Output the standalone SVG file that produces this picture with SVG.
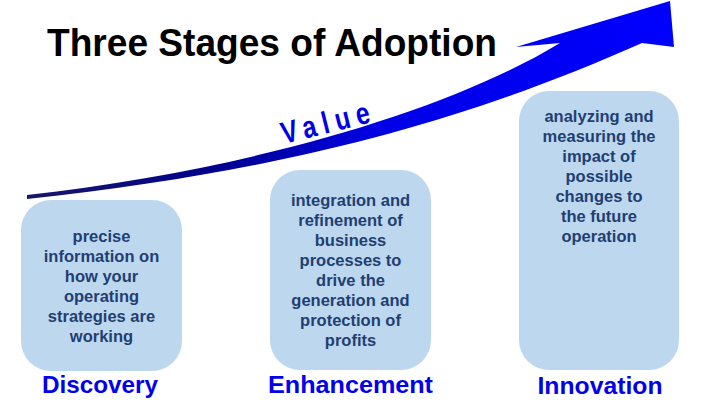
<svg xmlns="http://www.w3.org/2000/svg" width="703" height="417" viewBox="0 0 703 417">
<defs>
<linearGradient id="shaft" gradientUnits="userSpaceOnUse" x1="27" y1="0" x2="670" y2="0">
<stop offset="0" stop-color="#17176a"/>
<stop offset="0.3" stop-color="#000090"/>
<stop offset="0.55" stop-color="#0000e6"/>
<stop offset="1" stop-color="#0000ff"/>
</linearGradient>
<style>
.box{fill:#bdd7ee;}
.body{font-family:"Liberation Sans",Arial,sans-serif;font-weight:bold;font-size:16.5px;fill:#1f3f73;text-anchor:middle;}
.label{font-family:"Liberation Sans",Arial,sans-serif;font-weight:bold;font-size:24px;fill:#0000ee;text-anchor:middle;}
.title{font-family:"Liberation Sans",Arial,sans-serif;font-weight:bold;font-size:39px;fill:#000;}
.value{font-family:"Liberation Sans",Arial,sans-serif;font-weight:bold;font-size:31px;fill:#0000e6;letter-spacing:8px;}
</style>
</defs>
<rect width="703" height="417" fill="#fff"/>
<text class="title" x="47" y="56" textLength="450" lengthAdjust="spacingAndGlyphs">Three Stages of Adoption</text>
<g id="connectors">
<path d="M27,195 C250,170 450,110 560,43 L516,47 L670,1 L674,47 L642,43 C480,115 300,170 27,199 Z" fill="url(#shaft)"/>
<text class="value" transform="translate(284,144) rotate(-14) scale(0.8,1)">Value</text>
</g>
<g id="discovery">
<rect class="box" x="21" y="200" width="161" height="171" rx="30"/>
<text class="body" x="101.5" y="242">precise</text>
<text class="body" x="101.5" y="262">information on</text>
<text class="body" x="101.5" y="282">how your</text>
<text class="body" x="101.5" y="302">operating</text>
<text class="body" x="101.5" y="322">strategies are</text>
<text class="body" x="101.5" y="342">working</text>
<text class="label" x="100" y="393" textLength="116" lengthAdjust="spacingAndGlyphs">Discovery</text>
</g>
<g id="enhancement">
<rect class="box" x="270" y="170" width="161" height="200" rx="30"/>
<text class="body" x="350.5" y="206">integration and</text>
<text class="body" x="350.5" y="226">refinement of</text>
<text class="body" x="350.5" y="246">business</text>
<text class="body" x="350.5" y="266">processes to</text>
<text class="body" x="350.5" y="286">drive the</text>
<text class="body" x="350.5" y="306">generation and</text>
<text class="body" x="350.5" y="326">protection of</text>
<text class="body" x="350.5" y="346">profits</text>
<text class="label" x="350.5" y="393" textLength="165" lengthAdjust="spacingAndGlyphs">Enhancement</text>
</g>
<g id="innovation">
<rect class="box" x="519" y="91" width="160" height="279" rx="30"/>
<text class="body" x="599" y="122">analyzing and</text>
<text class="body" x="599" y="142">measuring the</text>
<text class="body" x="599" y="162">impact of</text>
<text class="body" x="599" y="182">possible</text>
<text class="body" x="599" y="202">changes to</text>
<text class="body" x="599" y="222">the future</text>
<text class="body" x="599" y="242">operation</text>
<text class="label" x="600" y="394" textLength="125" lengthAdjust="spacingAndGlyphs">Innovation</text>
</g>
</svg>
